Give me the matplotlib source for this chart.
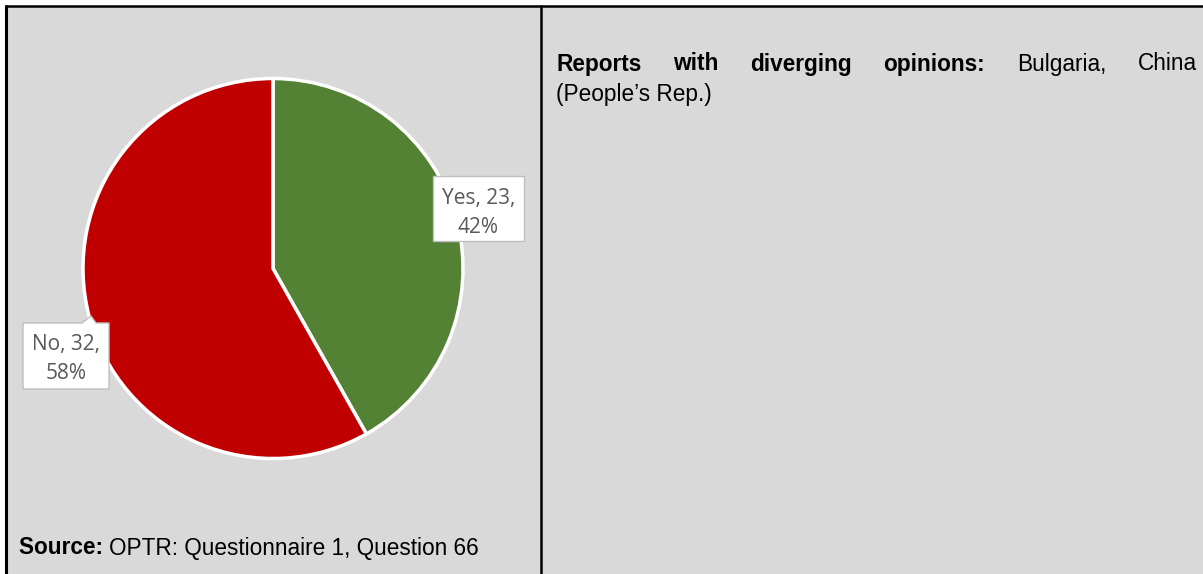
import matplotlib
matplotlib.use("Agg")
import matplotlib.pyplot as plt
from matplotlib.patches import Rectangle, Polygon

# Survey answers
categories = ["Yes", "No"]
counts = [23, 32]
colors = ["#548235", "#C00000"]

source_bold = "Source:"
source_text = "OPTR: Questionnaire 1, Question 66"
note_bold = ["Reports", "with", "diverging", "opinions:"]
note_plain = ["Bulgaria,", "China"]
note_line2 = "(People\u2019s Rep.)"

W, H = 1203, 574
BG = "#D9D9D9"

fig = plt.figure(figsize=(W / 100, H / 100), dpi=100)
fig.patch.set_facecolor("white")

# Pixel-space overlay for panels, borders and text
ov = fig.add_axes([0, 0, 1, 1], zorder=0)
ov.set_xlim(0, W)
ov.set_ylim(H, 0)
ov.axis("off")

ov.add_patch(Rectangle((6, 6), W - 6, H - 6, facecolor=BG, edgecolor="none"))
ov.plot([6, 6], [5, H], color="black", lw=2.2, solid_capstyle="butt")
ov.plot([5, W], [5.5, 5.5], color="black", lw=1.8, solid_capstyle="butt")
ov.plot([540.5, 540.5], [5, H], color="black", lw=1.8, solid_capstyle="butt")

# Pie chart
cx, cy, r = 273, 268.5, 190
pax = fig.add_axes([(cx - r) / W, (H - cy - r) / H, 2 * r / W, 2 * r / H], zorder=1)
wedges, _ = pax.pie(counts, colors=colors, startangle=90, counterclock=False,
                    radius=1.0, wedgeprops=dict(edgecolor="white", linewidth=2.5))
pax.set_xlim(-1, 1)
pax.set_ylim(-1, 1)
pax.axis("off")

total = sum(counts)
labels = [f"{c}, {v},\n{round(100 * v / total)}%" for c, v in zip(categories, counts)]

lab = fig.add_axes([0, 0, 1, 1], zorder=2)
lab.set_xlim(0, W)
lab.set_ylim(H, 0)
lab.axis("off")

box_edge = "#BFBFBF"
lab_fs = 15
# Yes label box
lab.add_patch(Rectangle((433, 176), 91, 65, facecolor="white", edgecolor=box_edge, lw=1))
lab.text(478.5, 213, labels[0], ha="center", va="center", fontsize=lab_fs,
         family="Open Sans", color="#595959", linespacing=1.45)
# No label box with callout notch
no_box = Polygon([(23, 323), (82, 323), (91, 316), (96, 323), (109, 323),
                  (109, 389), (23, 389)], closed=True,
                 facecolor="white", edgecolor=box_edge, lw=1)
lab.add_patch(no_box)
lab.text(66, 359, labels[1], ha="center", va="center", fontsize=lab_fs,
         family="Open Sans", color="#595959", linespacing=1.45)

font = "Liberation Sans"
fs = 16.3

# Source line
t1 = ov.text(19, 548, source_bold + " ", fontsize=fs, family=font,
             fontweight="bold", va="center", ha="left")
fig.canvas.draw()
rend = fig.canvas.get_renderer()
inv = ov.transData.inverted()
bb = t1.get_window_extent(rend)
x_end = inv.transform((bb.x1, bb.y0))[0]
ov.text(x_end, 548, source_text, fontsize=fs, family=font, va="center", ha="left")

# Justified first line of the note
words = [(w, "bold") for w in note_bold] + [(w, "normal") for w in note_plain]
left, right, y1 = 556, 1197, 64
widths = []
for w, wt in words:
    t = ov.text(0, y1, w, fontsize=fs, family=font, fontweight=wt, va="center")
    b = t.get_window_extent(rend)
    widths.append(inv.transform((b.x1, b.y0))[0] - inv.transform((b.x0, b.y0))[0])
    t.remove()
gap = (right - left - sum(widths)) / (len(words) - 1)
x = left
for (w, wt), wd in zip(words, widths):
    ov.text(x, y1, w, fontsize=fs, family=font, fontweight=wt, va="center", ha="left")
    x += wd + gap
ov.text(left, 95, note_line2, fontsize=fs, family=font, va="center", ha="left")

fig.savefig("out.png", dpi=100, facecolor="white")
